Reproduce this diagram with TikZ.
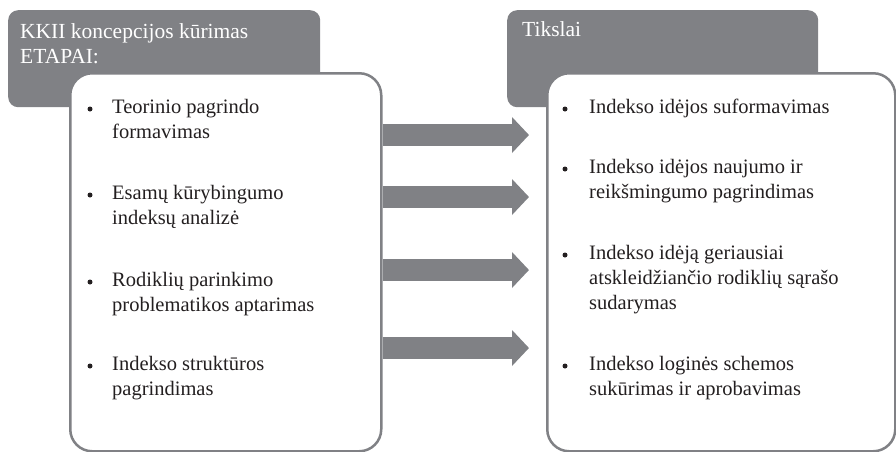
\documentclass[tikz,border=0pt]{standalone}
\usepackage{fontspec}
\setmainfont{Liberation Serif}
\usepackage{tikz}
\usetikzlibrary{arrows.meta, positioning}

\definecolor{boxgray}{RGB}{128,129,133}
\definecolor{inkdark}{RGB}{35,31,32}

\tikzset{
    titlebox/.style={fill=boxgray, rounded corners=10pt, anchor=north west, inner sep=0pt},
    listbox/.style={draw=boxgray, line width=2.5pt, fill=white, rounded corners=22pt, anchor=north west, inner sep=0pt},
    titletext/.style={text=white, font=\fontsize{21.5}{25}\selectfont, align=left, anchor=base west, inner sep=0pt},
    entry/.style={text=inkdark, font=\fontsize{20.5}{25}\selectfont, align=left, anchor=base west, inner sep=0pt},
    dot/.style={circle, fill=inkdark, minimum size=5pt, inner sep=0pt},
    flow/.style={boxgray, line width=22pt, -{Triangle[width=35pt, length=17pt]}, shorten >=17pt}
}

\begin{document}
\begin{tikzpicture}[x=1pt, y=-1pt]
    \useasboundingbox (0,0) rectangle (896,451);

    % Header boxes
    \node[titlebox, minimum width=312pt, minimum height=97pt] (stagehead) at (8,10) {};
    \node[titlebox, minimum width=311pt, minimum height=97pt] (goalhead) at (507,10) {};
    \node[titletext] (stagetitle) at (20,63) {KKII koncepcijos kūrimas\\ETAPAI:};
    \node[titletext] (goaltitle) at (522,36) {Tikslai};

    % List boxes
    \node[listbox, minimum width=311pt, minimum height=378pt] (stages) at (69,72) {};
    \node[listbox, minimum width=348pt, minimum height=378pt] (goals) at (546,72) {};

    % Stages (placed at the baseline of the last line)
    \node[dot] (sd1) at (90,109) {};
    \node[entry] (s1) at (112,138) {Teorinio pagrindo\\formavimas};
    \node[dot] (sd2) at (90,195) {};
    \node[entry] (s2) at (112,224) {Esamų kūrybingumo\\indeksų analizė};
    \node[dot] (sd3) at (90,282) {};
    \node[entry] (s3) at (112,311) {Rodiklių parinkimo\\problematikos aptarimas};
    \node[dot] (sd4) at (90,366) {};
    \node[entry] (s4) at (112,395) {Indekso struktūros\\pagrindimas};

    % Goals
    \node[dot] (gd1) at (565,109) {};
    \node[entry] (g1) at (589,113) {Indekso idėjos suformavimas};
    \node[dot] (gd2) at (565,169) {};
    \node[entry] (g2) at (589,198) {Indekso idėjos naujumo ir\\reikšmingumo pagrindimas};
    \node[dot] (gd3) at (565,255) {};
    \node[entry] (g3) at (589,309) {Indekso idėją geriausiai\\atskleidžiančio rodiklių sąrašo\\sudarymas};
    \node[dot] (gd4) at (565,366) {};
    \node[entry] (g4) at (589,395) {Indekso loginės schemos\\sukūrimas ir aprobavimas};

    % Arrows
    \draw[flow] (stages.east |- 0,135) -- (goals.west |- 0,135);
    \draw[flow] (stages.east |- 0,197) -- (goals.west |- 0,197);
    \draw[flow] (stages.east |- 0,270) -- (goals.west |- 0,270);
    \draw[flow] (stages.east |- 0,348) -- (goals.west |- 0,348);
\end{tikzpicture}
\end{document}
